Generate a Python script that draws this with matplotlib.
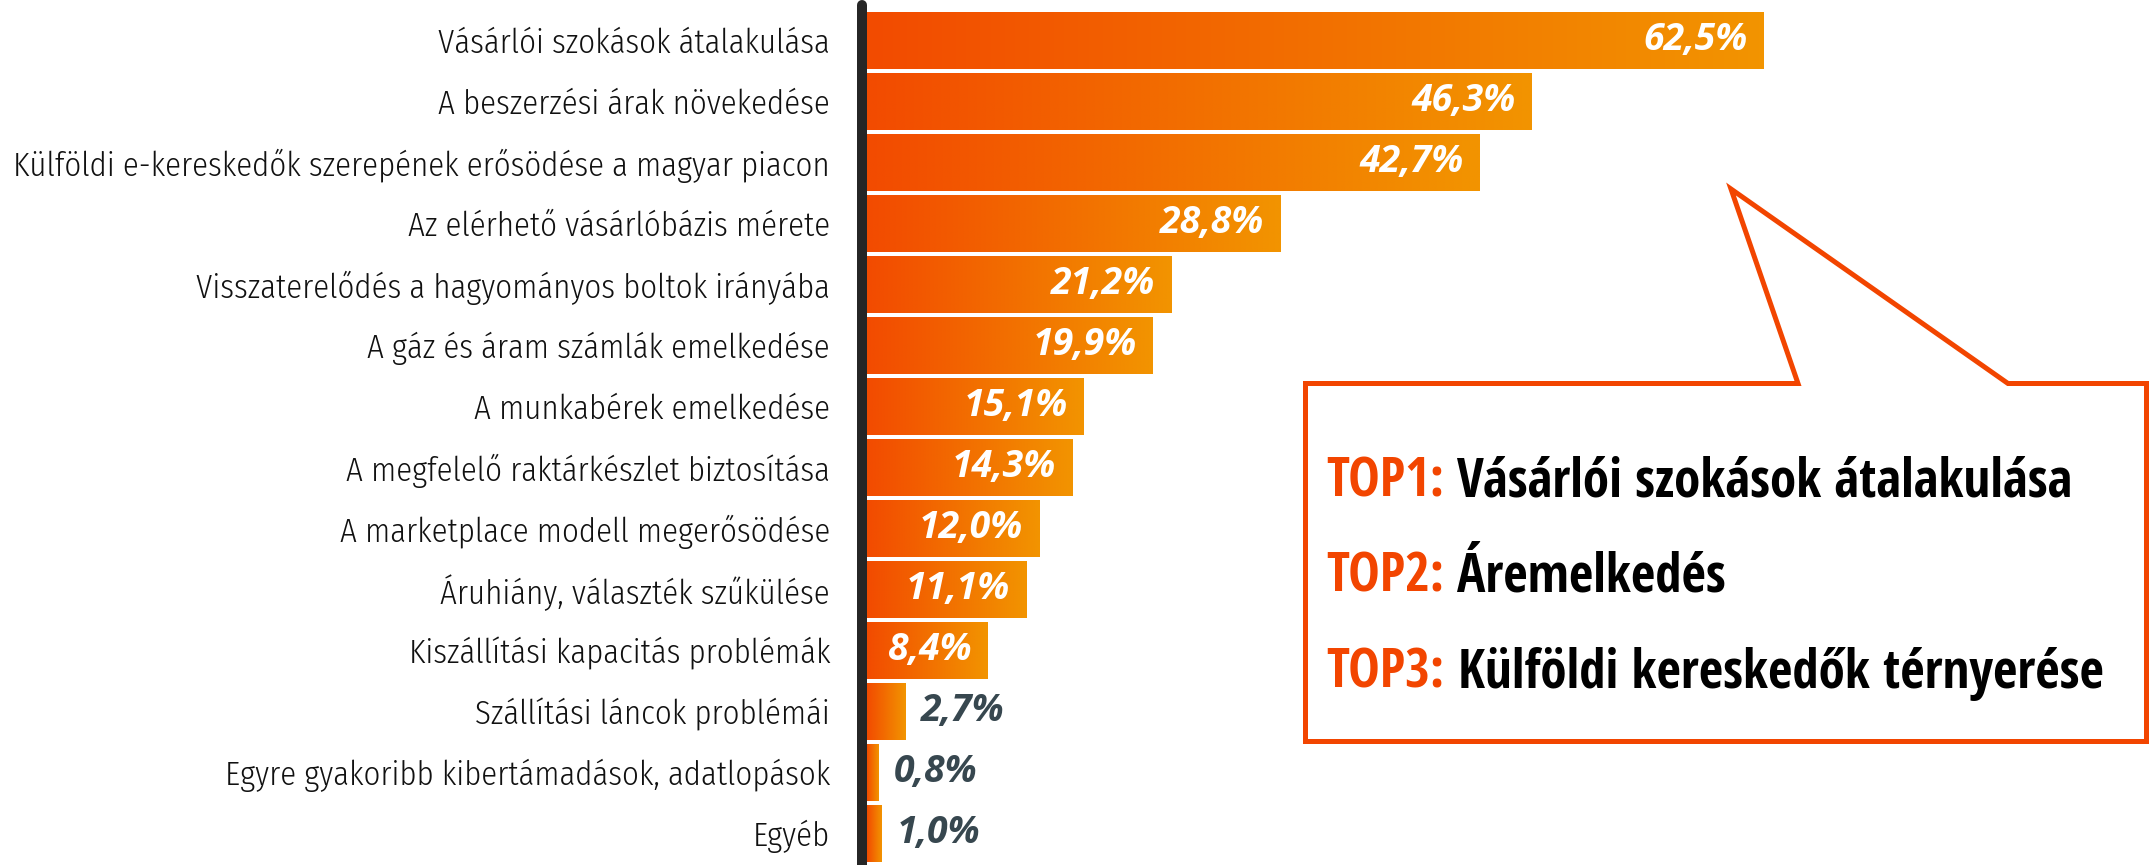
import matplotlib
matplotlib.use("Agg")
import matplotlib.pyplot as plt
import matplotlib.font_manager as fm
import numpy as np
from matplotlib.colors import LinearSegmentedColormap
from matplotlib.patches import Polygon

# adatok
categories = [
    "Vásárlói szokások átalakulása",
    "A beszerzési árak növekedése",
    "Külföldi e-kereskedők szerepének erősödése a magyar piacon",
    "Az elérhető vásárlóbázis mérete",
    "Visszaterelődés a hagyományos boltok irányába",
    "A gáz és áram számlák emelkedése",
    "A munkabérek emelkedése",
    "A megfelelő raktárkészlet biztosítása",
    "A marketplace modell megerősödése",
    "Áruhiány, választék szűkülése",
    "Kiszállítási kapacitás problémák",
    "Szállítási láncok problémái",
    "Egyre gyakoribb kibertámadások, adatlopások",
    "Egyéb",
]
values = [62.5, 46.3, 42.7, 28.8, 21.2, 19.9, 15.1, 14.3, 12.0, 11.1, 8.4, 2.7, 0.8, 1.0]
value_labels = ["62,5%", "46,3%", "42,7%", "28,8%", "21,2%", "19,9%", "15,1%",
                "14,3%", "12,0%", "11,1%", "8,4%", "2,7%", "0,8%", "1,0%"]

top_tags = ["TOP1:", "TOP2:", "TOP3:"]
top_texts = ["Vásárlói szokások átalakulása", "Áremelkedés", "Külföldi kereskedők térnyerése"]

W, H = 2154, 865
red = "#F24500"
grad = LinearSegmentedColormap.from_list("g", ["#F24B00", "#F29400"])


# keskeny betűtípus keresése (név + vastagság)
def pick(prefs, lo, hi):
    for n in prefs:
        for f in fm.fontManager.ttflist:
            w = f.weight if isinstance(f.weight, int) else fm.weight_dict.get(f.weight, 400)
            if f.name == n and f.style == "normal" and lo <= w <= hi:
                return n, w
    return "DejaVu Sans", 400


cond = ["Open Sans Condensed", "Open Sans Condensed Light", "Fira Sans Condensed",
        "IBM Plex Sans Condensed", "Roboto Condensed", "Encode Sans Condensed",
        "Archivo Narrow", "Asap Condensed"]
lab_name, lab_w = pick(cond, 300, 400)
top_name, top_w = pick(cond, 600, 800)
valfont = ["Open Sans", "DejaVu Sans"]

fig = plt.figure(figsize=(W / 100, H / 100), dpi=100)
rend = fig.canvas.get_renderer()


def fit(text, target, **kw):
    t = fig.text(0, 0, text, fontsize=20, **kw)
    w = t.get_window_extent(renderer=rend).width
    t.remove()
    return 20 * target / w


label_fs = fit(categories[0], 393, family=lab_name, fontweight=lab_w)
top_fs = fit(top_tags[0] + " " + top_texts[0], 748, family=top_name, fontweight=top_w)
val_fs = fit(value_labels[0], 104, family=valfont, fontweight="bold", style="italic")

ax = fig.add_axes([867 / W, 0, 1 - 867 / W, 1])

y = np.arange(len(categories))
bars = ax.barh(y, values, height=0.934, color="#F29400", edgecolor="none", zorder=2)

# színátmenet minden oszlopon
g = np.linspace(0, 1, 256).reshape(1, -1)
for b in bars:
    x0, y0, w, h = b.get_x(), b.get_y(), b.get_width(), b.get_height()
    im = ax.imshow(g, cmap=grad, aspect="auto", extent=(x0, x0 + w, y0 + h, y0),
                   zorder=3, interpolation="bilinear")
    im.set_clip_path(b)

ax.set_xlim(0, (W - 867) / 14.35)
ax.set_ylim(13.52, -0.66)

# függőleges tengelyvonal
ax.plot([-0.35, -0.35], [-0.58, 13.6], color="#262626", lw=7.2,
        solid_capstyle="round", zorder=4, clip_on=False)

ax.set_yticks(y)
ax.set_yticklabels(categories, fontsize=label_fs, family=lab_name,
                   fontweight=lab_w, color="#111111")
ax.tick_params(axis="y", length=0, pad=26.6)
ax.set_xticks([])
for s in ax.spines.values():
    s.set_visible(False)

# értékcímkék
for v, lab, yy in zip(values, value_labels, y):
    inside = v > 5
    ax.annotate(lab, (v, yy), xytext=(-11.5 if inside else 10.8, 0),
                textcoords="offset points", ha="right" if inside else "left",
                va="center", color="white" if inside else "#37474F", fontsize=val_fs,
                fontweight="bold", style="italic", family=valfont, zorder=5)

# szövegbuborék
pts = [(1305.5, 383.5), (1798, 383.5), (1731, 189), (2008, 383.5),
       (2146.5, 383.5), (2146.5, 741.5), (1305.5, 741.5)]
pts = [(px / W, 1 - py / H) for px, py in pts]
fig.patches.append(Polygon(pts, closed=True, fill=False, edgecolor=red, lw=3.6,
                           joinstyle="miter", transform=fig.transFigure))

baselines = [496, 592, 688]
for tag, txt, by in zip(top_tags, top_texts, baselines):
    t1 = fig.text(1326 / W, 1 - by / H, tag, color=red, fontsize=top_fs,
                  fontweight=top_w, family=top_name, va="baseline")
    ax.annotate(txt, xy=(1, 0), xycoords=t1, xytext=(top_fs * 0.25, 0),
                textcoords="offset points", color="black", fontsize=top_fs,
                fontweight=top_w, family=top_name, va="bottom", ha="left",
                annotation_clip=False)

fig.savefig("out.png", dpi=100)
